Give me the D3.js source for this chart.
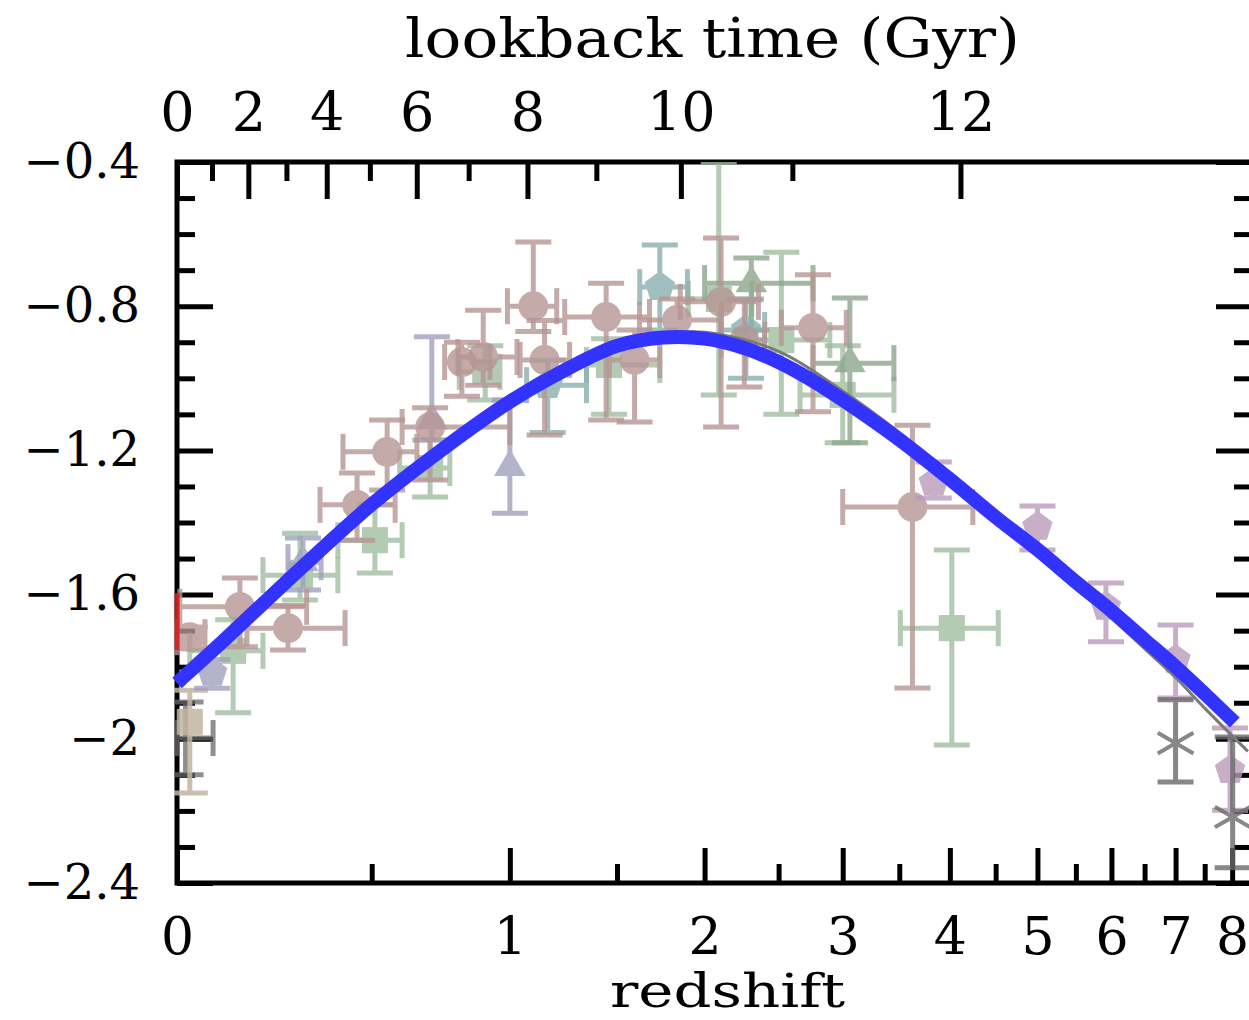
<!DOCTYPE html>
<html>
<head>
<meta charset="utf-8">
<script src="https://cdn.jsdelivr.net/npm/d3@7"></script>
<style>
  body { margin: 0; background: #fff; }
  svg { display: block; }
  text { font-family: "DejaVu Serif", serif; fill: #000; }
</style>
</head>
<body>
<div id="chart"></div>
<script>
// ---- data ----
// each point: [z, logSFRD, zLo, zHi, logLo, logHi]
const pinkPoints = [
  [0.027, -1.718, 0.0, 0.06, -1.75, -1.69],
  [0.14, -1.634, 0.006, 0.31, -1.745, -1.554],
  [0.26, -1.693, 0.157, 0.419, -1.754, -1.63],
  [0.549, -1.204, 0.413, 0.648, -1.31, -1.116],
  [0.455, -1.351, 0.347, 0.575, -1.449, -1.263],
  [0.694, -1.135, 0.598, 1.0, -1.282, -1.082],
  [0.892, -0.941, 0.795, 1.03, -1.019, -0.811],
  [0.81, -0.955, 0.746, 0.919, -1.05, -0.9],
  [1.10, -0.80, 0.99, 1.205, -0.87, -0.622],
  [1.15, -0.949, 1.043, 1.265, -1.157, -0.84],
  [1.444, -0.83, 1.242, 1.675, -1.116, -0.736],
  [1.593, -0.949, 1.46, 1.733, -1.121, -0.866],
  [1.833, -0.838, 1.62, 2.105, -0.894, -0.78],
  [2.105, -0.788, 1.852, 2.356, -1.135, -0.611],
  [2.259, -0.894, 2.105, 2.40, -1.024, -0.783],
  [2.76, -0.86, 2.52, 3.03, -1.093, -0.713],
  [3.625, -1.357, 3.0, 4.245, -1.859, -1.13]
];
const greenSquares = [
  [0.124, -1.756, 0.027, 0.196, -1.928, -1.67],
  [0.292, -1.546, 0.196, 0.398, -1.615, -1.43],
  [0.51, -1.449, 0.398, 0.598, -1.54, -1.351],
  [0.694, -1.249, 0.59, 0.765, -1.329, -1.171],
  [0.90, -0.982, 0.80, 0.959, -1.06, -0.91],
  [1.459, -0.963, 1.346, 1.733, -1.10, -0.89],
  [2.09, -0.78, 1.90, 2.31, -1.046, -0.40],
  [2.52, -0.894, 2.27, 2.894, -1.10, -0.65],
  [3.0, -1.046, 2.66, 3.45, -1.179, -0.91],
  [4.02, -1.693, 3.51, 4.53, -2.017, -1.476]
];
const greenTriangles = [
  [2.307, -0.736, 2.0, 2.76, -0.866, -0.666],
  [3.06, -0.958, 2.76, 3.45, -1.179, -0.777]
];
const greyBlueTriangles = [
  [1.0, -1.246, 1.0, 1.0, -1.374, -1.06],
  [0.70, -1.116, 0.70, 0.70, -1.171, -0.885],
  [0.30, -1.51, 0.26, 0.35, -1.587, -1.443]
];
const greyBluePentagons = [
  [0.076, -1.817, 0.076, 0.076, -1.86, -1.78]
];
const tealPentagons = [
  [1.733, -0.747, 1.621, 1.895, -0.866, -0.63],
  [2.27, -0.866, 2.105, 2.40, -1.0, -0.78],
  [1.164, -1.019, 1.071, 1.346, -1.15, -0.95]
];
const mauvePentagons = [
  [3.835, -1.29, 3.835, 3.835, -1.332, -1.232],
  [5.0, -1.412, 5.0, 5.0, -1.476, -1.354],
  [5.92, -1.634, 5.92, 5.92, -1.731, -1.568],
  [7.0, -1.781, 7.0, 7.0, -1.887, -1.684],
  [7.96, -2.087, 7.96, 7.96, -2.198, -1.97]
];
const greyStars = [
  [7.0, -2.012, 7.0, 7.0, -2.12, -1.892],
  [8.01, -2.217, 8.01, 8.01, -2.358, -1.995]
];
const greyBars = [
  [0.018, -1.998, 0.0, 0.078, -2.10, -1.898]
];
const beigeSquares = [
  [0.027, -1.953, 0.027, 0.027, -2.15, -1.865]
];
const redBars = [
  [0.0, -1.67, 0.0, 0.0, -1.754, -1.596]
];

// fitted curves
const fitZ = [0, 0.1, 0.25, 0.5, 0.75, 1.0, 1.25, 1.5, 1.75, 2.0, 2.25, 2.5, 2.75, 3.0, 3.5, 4.0, 4.5, 5.0, 5.5, 6.0, 6.5, 7.0, 7.5, 8.05];
const fitV = [-1.845, -1.73, -1.57, -1.35, -1.19, -1.065, -0.975, -0.91, -0.887, -0.89, -0.915, -0.955, -1.005, -1.06, -1.17, -1.28, -1.385, -1.475, -1.565, -1.645, -1.725, -1.80, -1.875, -1.955];
const altZ = [0, 0.5, 1.0, 1.5, 1.75, 2.0, 2.5, 3.0, 3.5, 4.0, 4.5, 5.0, 5.5, 6.0, 6.5, 7.0, 7.5, 8.3];
const altV = [-1.845, -1.35, -1.06, -0.905, -0.878, -0.872, -0.925, -1.035, -1.15, -1.265, -1.38, -1.48, -1.575, -1.665, -1.75, -1.83, -1.915, -2.035];

// axis ticks
const zMajor = [0, 1, 2, 3, 4, 5, 6, 7, 8];
const zMinor = [0.5, 1.5, 2.5, 3.5, 4.5, 5.5, 6.5, 7.5];
const yMajor = [-2.4, -2.0, -1.6, -1.2, -0.8, -0.4];
const yMinor = [-2.3, -2.2, -2.1, -1.9, -1.8, -1.7, -1.5, -1.4, -1.3, -1.1, -1.0, -0.9, -0.7, -0.6, -0.5];
const tMajor = [0, 2, 4, 6, 8, 10, 12];
const tMinor = [1, 3, 5, 7, 9, 11];

// ---- layout ----
const W = 1249, H = 1020;
const pL = 177, pR = 1252, pT = 162, pB = 883;

const svg = d3.select('#chart').append('svg')
  .attr('width', W).attr('height', H);

const xLog = d3.scaleLog().domain([1, 9.38]).range([pL, pR]);
const xs = z => xLog(1 + z);
const y = d3.scaleLinear().domain([-2.4, -0.4]).range([pB, pT]);

// lookback time, flat LCDM H0=70, Om=0.3
const tHubble = 977.8 / 70;
function lookback(z) {
  const n = 400, h = z / n;
  let s = 0;
  for (let i = 0; i <= n; i++) {
    const zz = i * h;
    const f = 1 / ((1 + zz) * Math.sqrt(0.3 * Math.pow(1 + zz, 3) + 0.7));
    s += f * (i === 0 || i === n ? 1 : (i % 2 ? 4 : 2));
  }
  return tHubble * s * h / 3;
}
function zAt(t) {
  if (t === 0) return 0;
  let lo = 0, hi = 30;
  for (let k = 0; k < 50; k++) {
    const m = (lo + hi) / 2;
    if (lookback(m) < t) lo = m; else hi = m;
  }
  return (lo + hi) / 2;
}
const tMajorZ = new Map(tMajor.map(t => [1 + zAt(t), t]));

// ---- axes ----
function styleAxis(g, fontSize) {
  g.select('.domain').remove();
  g.selectAll('.tick line').attr('stroke', '#000').attr('stroke-width', 5);
  g.selectAll('.tick text').style('font-size', fontSize + 'px').attr('fill', '#000');
}

// bottom: redshift
svg.append('g').attr('transform', `translate(0,${pB})`)
  .call(d3.axisBottom(xLog).tickValues(zMajor.map(z => 1 + z))
    .tickFormat(d => String(Math.round(d - 1))).tickSize(-35).tickPadding(34))
  .call(g => styleAxis(g, 52));
svg.append('g').attr('transform', `translate(0,${pB})`)
  .call(d3.axisBottom(xLog).tickValues(zMinor.map(z => 1 + z)).tickFormat('').tickSize(-19))
  .call(g => styleAxis(g, 52));

// top: lookback time
svg.append('g').attr('transform', `translate(0,${pT})`)
  .call(d3.axisTop(xLog).tickValues([...tMajorZ.keys()])
    .tickFormat(d => tMajorZ.get(d)).tickSize(-37).tickPadding(31))
  .call(g => styleAxis(g, 54));
svg.append('g').attr('transform', `translate(0,${pT})`)
  .call(d3.axisTop(xLog).tickValues(tMinor.map(t => 1 + zAt(t))).tickFormat('').tickSize(-19))
  .call(g => styleAxis(g, 54));

// left
const fmtY = d => d3.format('.1f')(d).replace('.0', '');
svg.append('g').attr('transform', `translate(${pL},0)`)
  .call(d3.axisLeft(y).tickValues(yMajor).tickFormat(fmtY).tickSize(-36).tickPadding(37))
  .call(g => styleAxis(g, 48));
svg.append('g').attr('transform', `translate(${pL},0)`)
  .call(d3.axisLeft(y).tickValues(yMinor).tickFormat('').tickSize(-18))
  .call(g => styleAxis(g, 48));

// right
svg.append('g').attr('transform', `translate(${pR},0)`)
  .call(d3.axisRight(y).tickValues(yMajor).tickFormat('').tickSize(-36))
  .call(g => styleAxis(g, 48));
svg.append('g').attr('transform', `translate(${pR},0)`)
  .call(d3.axisRight(y).tickValues(yMinor).tickFormat('').tickSize(-18))
  .call(g => styleAxis(g, 48));

// frame
svg.append('rect')
  .attr('x', pL).attr('y', pT)
  .attr('width', pR - pL).attr('height', pB - pT)
  .attr('fill', 'none').attr('stroke', '#000').attr('stroke-width', 5);

// titles
svg.append('text').attr('x', 405).attr('y', 57)
  .attr('textLength', 615).attr('lengthAdjust', 'spacingAndGlyphs')
  .style('font-size', '55px').text('lookback time (Gyr)');
svg.append('text').attr('x', 610).attr('y', 1007)
  .attr('textLength', 235).attr('lengthAdjust', 'spacingAndGlyphs')
  .style('font-size', '46px').text('redshift');

// ---- data marks ----
svg.append('clipPath').attr('id', 'plotclip')
  .append('rect').attr('x', pL - 3).attr('y', pT).attr('width', pR - pL + 3).attr('height', pB - pT);

const dataG = svg.append('g').attr('clip-path', 'url(#plotclip)');

const pentagon = r => d3.line()(d3.range(5).map(i => {
  const a = -Math.PI / 2 + i * 2 * Math.PI / 5;
  return [r * Math.cos(a), r * Math.sin(a)];
})) + 'Z';

const shapes = {
  circle: () => d3.symbol(d3.symbolCircle, 700)(),
  square: () => d3.symbol(d3.symbolSquare, 680)(),
  triangle: () => d3.symbol(d3.symbolTriangle, 430)(),
  pentagon: () => pentagon(16),
  star: () => d3.symbol(d3.symbolAsterisk, 1200)()
};

function drawSeries(points, color, shape, opacity, cap = 18) {
  points.forEach(p => {
    const [z, v, zLo, zHi, vLo, vHi] = p;
    const cx = xs(z), cy = y(v);
    const g = dataG.append('g').attr('opacity', opacity)
      .attr('stroke', color).attr('stroke-width', 5).attr('fill', 'none');
    if (vLo !== vHi) {
      g.append('line').attr('x1', cx).attr('x2', cx).attr('y1', y(vLo)).attr('y2', y(vHi));
      if (cap > 0) [vLo, vHi].forEach(e => g.append('line')
        .attr('x1', cx - cap).attr('x2', cx + cap).attr('y1', y(e)).attr('y2', y(e)));
    }
    if (zLo !== zHi) {
      g.append('line').attr('x1', xs(zLo)).attr('x2', xs(zHi)).attr('y1', cy).attr('y2', cy);
      if (cap > 0) [zLo, zHi].forEach(e => g.append('line')
        .attr('x1', xs(e)).attr('x2', xs(e)).attr('y1', cy - cap).attr('y2', cy + cap));
    }
    if (shape !== 'none') {
      const m = g.append('path').attr('d', shapes[shape]())
        .attr('transform', `translate(${cx},${cy})`);
      if (shape === 'star') m.attr('stroke-width', 4);
      else m.attr('fill', color).attr('stroke', 'none');
    }
  });
}

drawSeries(greyBars, '#6a6a6a', 'none', 0.75);
drawSeries(beigeSquares, '#c3b4a1', 'square', 0.85);
drawSeries(greenSquares, '#a1bda1', 'square', 0.8);
drawSeries(greenTriangles, '#8da68d', 'triangle', 0.8);
drawSeries(greyBlueTriangles, '#a1a1bf', 'triangle', 0.8);
drawSeries(greyBluePentagons, '#a1a1bf', 'pentagon', 0.8);
drawSeries(tealPentagons, '#8bb0b0', 'pentagon', 0.8);
drawSeries(pinkPoints, '#b69694', 'circle', 0.8);
drawSeries(mauvePentagons, '#ba9cba', 'pentagon', 0.8);
drawSeries(greyStars, '#6a6a6a', 'star', 0.8);
drawSeries(redBars, '#d42020', 'none', 0.9, 0);

// ---- fitted curves ----
const line = d3.line().x(d => xs(d[0])).y(d => y(d[1])).curve(d3.curveCatmullRom.alpha(0.5));

svg.append('path')
  .attr('d', line(d3.zip(altZ, altV)))
  .attr('fill', 'none').attr('stroke', '#7a7a7a').attr('stroke-width', 3)
  .attr('clip-path', 'url(#plotclip)');

svg.append('path')
  .attr('d', line(d3.zip(fitZ, fitV)))
  .attr('fill', 'none').attr('stroke', '#3333ff').attr('stroke-width', 14);
</script>
</body>
</html>
